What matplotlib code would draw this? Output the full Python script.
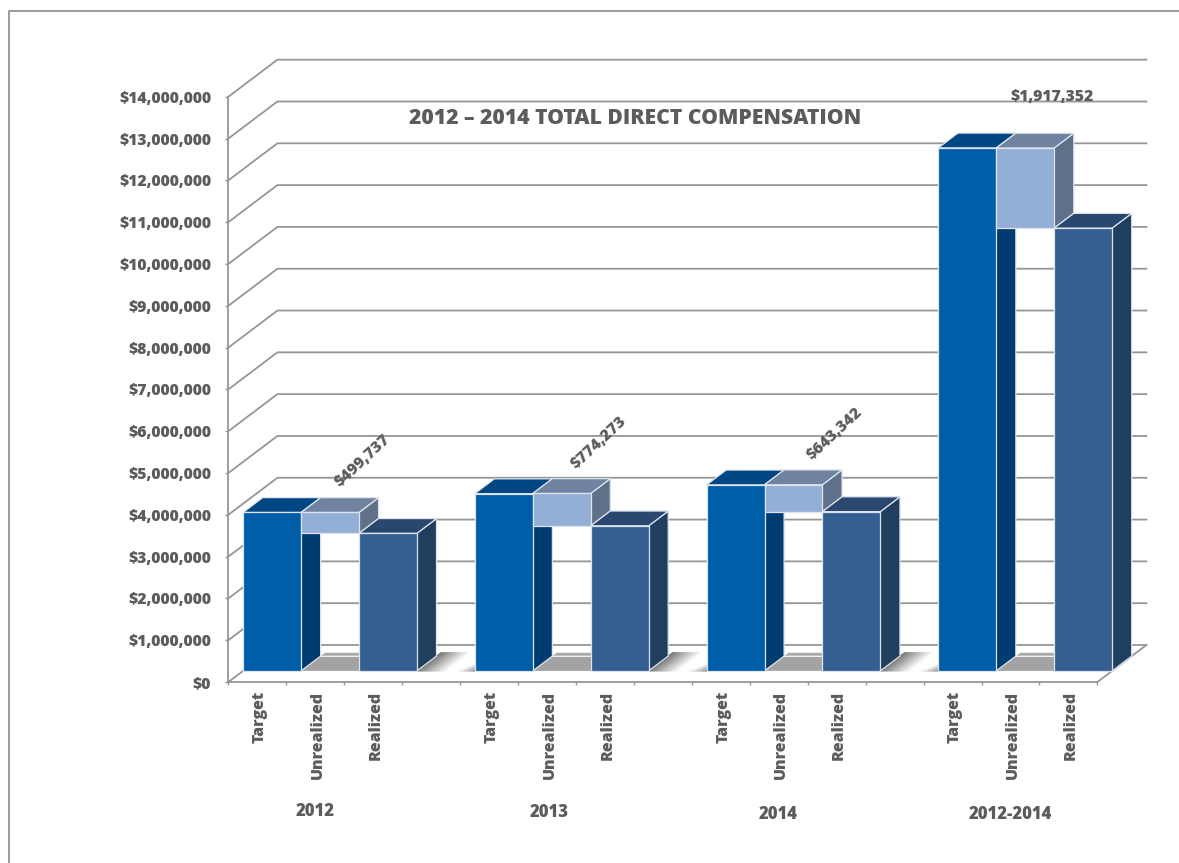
import numpy as np
import matplotlib
matplotlib.use('Agg')
import matplotlib.pyplot as plt
from matplotlib.colors import LinearSegmentedColormap
from matplotlib.lines import Line2D
from matplotlib.ticker import FuncFormatter
from matplotlib.transforms import ScaledTranslation

groups = ['2012', '2013', '2014', '2012-2014']
bar_names = ['Target', 'Unrealized', 'Realized']
target = [3790000, 4240000, 4450000, 12510000]
unrealized = [499737, 774273, 643342, 1917352]
realized = [3290000, 3470000, 3810000, 10590000]
y_ticks = list(range(0, 15000000, 1000000))

W, H = 1179, 863
TEXT = '#5c5c5c'
GRID = '#969696'

plt.rcParams['font.family'] = ['Open Sans', 'DejaVu Sans']
plt.rcParams['font.weight'] = 800

fig = plt.figure(figsize=(W / 100, H / 100), dpi=100)
ax = fig.add_axes([228.4 / W, (H - 682) / H, 869 / W, 585.3 / H])

# depth of the fake 3d box, in axis units
DX = 49 / 57.93
DY = 37 / 41.8 * 1e6
D0, D1 = 0.3, 0.7


def pos(x, y, d=0):
    return x + d * DX, y + d * DY


def box(x, low, high, front, top, side):
    edge = '#dde3ec'
    corners = [pos(x, low, D0), pos(x + 1, low, D0), pos(x + 1, high, D0), pos(x, high, D0)]
    roof = [pos(x, high, D0), pos(x + 1, high, D0), pos(x + 1, high, D1), pos(x, high, D1)]
    wall = [pos(x + 1, low, D0), pos(x + 1, low, D1), pos(x + 1, high, D1), pos(x + 1, high, D0)]
    for pts, col in ((wall, side), (roof, top), (corners, front)):
        xs, ys = zip(*pts)
        ax.fill(xs, ys, facecolor=col, edgecolor=edge, linewidth=0.9, zorder=3, clip_on=False)


# walls and floor
for v in y_ticks:
    ax.plot([0, DX, 15 + DX], [v, v + DY, v + DY], color=GRID, lw=1.3, zorder=1, clip_on=False)
ax.plot([15, 15 + DX], [0, DY], color=GRID, lw=1.3, zorder=1, clip_on=False)

shadow_map = LinearSegmentedColormap.from_list('shadow', ['#ffffff', '#7c7c7c'])
for g in range(len(groups)):
    start = g * 4
    # grey floor patch under the open slot
    xs, ys = zip(pos(start + 1, 0, D0), pos(start + 1, 0, 0.68), pos(start + 2, 0, 0.68), pos(start + 2, 0, D0))
    ax.fill(xs, ys, color='#a3a3a3', lw=0, zorder=2, clip_on=False)
    xs, ys = zip(pos(start + 1, 0, 0.71), pos(start + 1, 0, 0.79), pos(start + 2, 0, 0.79), pos(start + 2, 0, 0.71))
    ax.fill(xs, ys, color='#ababab', lw=0, zorder=2, clip_on=False)
    if g < len(groups) - 1:
        u, d = np.meshgrid(np.linspace(0, 1, 41), np.linspace(D0, 0.79, 21))
        left = np.clip(1 - u / 0.5, 0, 1)
        right = 0.85 * np.clip(1 - (1 - u) / 0.32 - (d - D0) / 0.42, 0, 1)
        X, Y = pos(start + 3 + u, 0 * u, d)
        ax.pcolormesh(X, Y, np.maximum(left, right), shading='gouraud', cmap=shadow_map,
                      vmin=0, vmax=1, zorder=2, clip_on=False)

label_dx = [2.31, 2.39, 2.47, 2.21]
label_rot = [43, 43, 43, 0]
for g in range(len(groups)):
    start = g * 4
    box(start, 0, target[g], '#005da8', '#004682', '#003c70')
    box(start + 1, realized[g], realized[g] + unrealized[g], '#93afd6', '#6f83a1', '#5f7089')
    box(start + 2, 0, realized[g], '#355f91', '#2a4770', '#203e5e')
    ax.text(start + label_dx[g], target[g] + 1490000, f'${unrealized[g]:,}', rotation=label_rot[g],
            ha='center', va='center', fontsize=11.3, color=TEXT, zorder=4)

ax.set_xlim(0, 15)
ax.set_ylim(0, 14000000)
ax.set_facecolor('none')
for side in ('top', 'right'):
    ax.spines[side].set_visible(False)
for side in ('left', 'bottom'):
    ax.spines[side].set_color(GRID)
    ax.spines[side].set_linewidth(1.3)

ax.set_yticks(y_ticks)
ax.yaxis.set_major_formatter(FuncFormatter(lambda v, p: f'${int(v):,}'))
ax.tick_params(axis='y', length=2.5, width=1, color=GRID, labelsize=11.3, labelcolor=TEXT, pad=10)
ax.set_xticks(range(16))
ax.set_xticklabels([])
ax.tick_params(axis='x', which='major', length=2.5, width=1, color=GRID)
slots = [s + i + 0.5 for s in range(0, 16, 4) for i in range(3)]
ax.set_xticks(slots, minor=True)
ax.set_xticklabels(bar_names * 4, minor=True, rotation=90)
ax.tick_params(axis='x', which='minor', length=0, labelsize=11.5, labelcolor=TEXT, pad=6.5)
nudge = ScaledTranslation(2.5 / 100, 0, fig.dpi_scale_trans)
for lbl in ax.get_xticklabels(minor=True):
    lbl.set_transform(lbl.get_transform() + nudge)

fig.text(635 / W, 1 - 118 / H, '2012 – 2014 TOTAL DIRECT COMPENSATION', ha='center', va='center',
         fontsize=15.2, color=TEXT)
for name, gx, gy in zip(groups, [315.5, 549, 778, 1010.5], [811, 812, 814, 814]):
    fig.text(gx / W, 1 - gy / H, name, ha='center', va='center', fontsize=12, color=TEXT)

# frame around the picture, only left and top reach the edge
fig.add_artist(Line2D([8.5 / W, 8.5 / W, 1], [0, 1 - 11.5 / H, 1 - 11.5 / H], color='#808080', lw=1.1))

fig.savefig('out.png', dpi=100)
